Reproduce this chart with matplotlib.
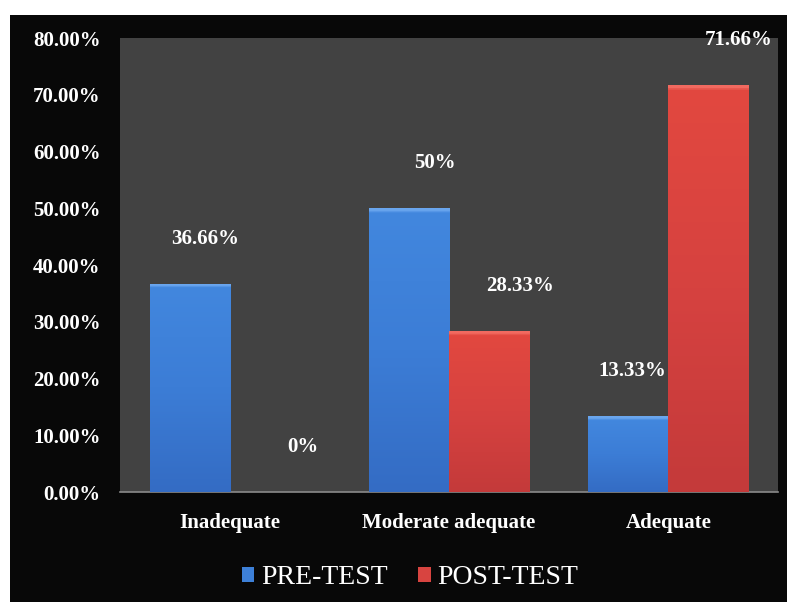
import numpy as np
import matplotlib
matplotlib.use('Agg')
import matplotlib.pyplot as plt
from matplotlib.patches import Rectangle
from matplotlib.colors import LinearSegmentedColormap

# --- Data ---
categories = ['Inadequate', 'Moderate adequate', 'Adequate']
pre_test = [36.66, 50.0, 13.33]
post_test = [0.0, 28.33, 71.66]
pre_labels = ['36.66%', '50%', '13.33%']
post_labels = ['0%', '28.33%', '71.66%']
y_ticks = [0, 10, 20, 30, 40, 50, 60, 70, 80]
y_tick_labels = ['%.2f%%' % v for v in y_ticks]

# label nudges (category units) as placed in the original chart
pre_label_dx = [0.07, 0.12, 0.02]
post_label_dx = [0.15, 0.14, 0.14]
label_dy = 8.0

BAR_W = 0.365
SERIF = ['Liberation Serif', 'DejaVu Serif']
plt.rcParams['font.family'] = SERIF

BLUE = ('#346cc4', '#3c7dd6', '#4287de', '#6aa6ee')
RED = ('#c43a3a', '#d64240', '#e2483f', '#f26a60')

fig = plt.figure(figsize=(7.87, 6.04), dpi=100, facecolor='white')
# black chart frame
fig.add_artist(Rectangle((10 / 787, 2 / 604), 1 - 10 / 787, 1 - 17 / 604,
                         transform=fig.transFigure, facecolor='#080808',
                         edgecolor='none', zorder=-5))

ax = fig.add_axes([120 / 787, 1 - 492 / 604, 658 / 787, 454 / 604])
ax.set_zorder(1)
ax.set_facecolor('#424242')

x = np.arange(len(categories))


def gradient_bars(bars, cols):
    # vertical shading with a thin light rim on top (about 4 px)
    grad = np.linspace(0, 1, 512).reshape(-1, 1)
    px_per_unit = 454 / 80
    for b in bars:
        h = b.get_height()
        if h <= 0:
            continue
        f = min(0.3, 4.0 / (h * px_per_unit))
        cmap = LinearSegmentedColormap.from_list(
            'g', [(0, cols[0]), (0.5, cols[1]), (1 - f, cols[2]),
                  (1 - f / 2, cols[3]), (1, cols[3])])
        bx, by = b.get_x(), b.get_y()
        im = ax.imshow(grad, cmap=cmap, origin='lower', aspect='auto',
                       extent=(bx, bx + b.get_width(), by, by + h), zorder=3)
        im.set_clip_path(b)


pre_bars = ax.bar(x - BAR_W / 2, pre_test, BAR_W, color='#3d80d8', zorder=2,
                  label='PRE-TEST')
post_bars = ax.bar(x + BAR_W / 2, post_test, BAR_W, color='#d84440', zorder=2,
                   label='POST-TEST')
gradient_bars(pre_bars, BLUE)
gradient_bars(post_bars, RED)

for i in range(len(categories)):
    ax.text(x[i] - BAR_W / 2 + pre_label_dx[i], pre_test[i] + label_dy, pre_labels[i],
            ha='center', va='center', color='white', fontsize=15, fontweight='bold', zorder=5)
    ax.text(x[i] + BAR_W / 2 + post_label_dx[i], post_test[i] + label_dy, post_labels[i],
            ha='center', va='center', color='white', fontsize=15, fontweight='bold', zorder=5)

ax.set_xlim(-0.5, len(categories) - 0.5)
ax.set_ylim(0, 80)
ax.set_yticks(y_ticks)
ax.set_yticklabels(y_tick_labels)
ax.set_xticks(x)
ax.set_xticklabels(categories)
ax.tick_params(axis='both', length=0, colors='white', labelsize=15)
ax.tick_params(axis='y', pad=14)
ax.tick_params(axis='x', pad=15)
for lab in ax.get_xticklabels() + ax.get_yticklabels():
    lab.set_fontweight('bold')

for side in ['top', 'right', 'left']:
    ax.spines[side].set_visible(False)
ax.spines['bottom'].set_color('#8a8a8a')
ax.spines['bottom'].set_linewidth(1.2)

leg = fig.legend(handles=[pre_bars, post_bars], loc='center',
                 bbox_to_anchor=(410 / 787, 1 - 578 / 604), ncol=2, frameon=False,
                 fontsize=20, handlelength=0.45, handleheight=0.45, handletextpad=0.25,
                 columnspacing=1.1, labelcolor='white')

fig.savefig('out.png', dpi=100, facecolor=fig.get_facecolor())
